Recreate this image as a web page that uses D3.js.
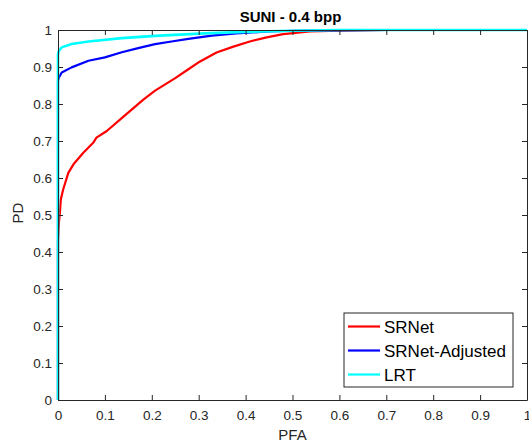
<html>
<script src="https://d3js.org/d3.v7.min.js"></script>
<body style="margin:0; background:#fff">
<svg width=529 height=443></svg>
<script>
// ROC points (PFA, PD)
var srnetPFA = [0, 0, 0.002, 0.004, 0.006, 0.011, 0.022, 0.033, 0.054, 0.075, 0.082, 0.104, 0.139, 0.182, 0.207, 0.25, 0.278, 0.303, 0.338, 0.374, 0.409, 0.445, 0.48, 0.537, 0.6, 0.7, 0.8, 1];
var srnetPD  = [0, 0.43, 0.48, 0.506, 0.542, 0.569, 0.614, 0.637, 0.668, 0.695, 0.709, 0.727, 0.765, 0.812, 0.836, 0.870, 0.894, 0.915, 0.939, 0.955, 0.969, 0.98, 0.989, 0.996, 0.998, 1, 1, 1];
var adjPFA = [0, 0, 0.002, 0.008, 0.029, 0.065, 0.1, 0.136, 0.171, 0.207, 0.242, 0.278, 0.328, 0.38, 0.45, 0.5, 0.6, 0.7, 1];
var adjPD  = [0, 0.863, 0.872, 0.885, 0.899, 0.917, 0.926, 0.94, 0.951, 0.962, 0.969, 0.976, 0.985, 0.991, 0.996, 0.998, 0.999, 1, 1];
var lrtPFA = [0, 0, 0.002, 0.008, 0.029, 0.065, 0.136, 0.207, 0.313, 0.4, 0.5, 0.6, 1];
var lrtPD  = [0, 0.935, 0.944, 0.953, 0.962, 0.969, 0.978, 0.984, 0.991, 0.995, 0.998, 1, 1];
var seriesNames = ["SRNet", "SRNet-Adjusted", "LRT"];
var seriesColors = ["#ff0000", "#0000ff", "#00ffff"];
var xTicks = [0, 0.1, 0.2, 0.3, 0.4, 0.5, 0.6, 0.7, 0.8, 0.9, 1];
var yTicks = [0, 0.1, 0.2, 0.3, 0.4, 0.5, 0.6, 0.7, 0.8, 0.9, 1];

var axisColor = "#262626";
var font = "'Liberation Sans', Arial, sans-serif";
var margin = {top: 30, left: 58, right: 2, bottom: 43};
var width = 529, height = 443;
var innerwidth = width - margin.left - margin.right;
var innerheight = height - margin.top - margin.bottom;

var svg = d3.select("svg");
var x = d3.scaleLinear().domain([0, 1]).range([0, innerwidth]);
var y = d3.scaleLinear().domain([0, 1]).range([innerheight, 0]);
var fmt = function(d) { return d === 0 || d === 1 ? String(d) : d3.format(".1f")(d); };

var g = svg.append("g").attr("transform", "translate(" + margin.left + "," + margin.top + ")");

// curves
var series = [
  {pfa: srnetPFA, pd: srnetPD},
  {pfa: adjPFA, pd: adjPD},
  {pfa: lrtPFA, pd: lrtPD}
];
var line = d3.line().x(function(d) { return x(d[0]); }).y(function(d) { return y(d[1]); });
series.forEach(function(s, i) {
  g.append("path")
    .datum(d3.zip(s.pfa, s.pd))
    .attr("fill", "none")
    .attr("stroke", seriesColors[i])
    .attr("stroke-width", i == 2 ? 2.6 : 2.2)
    .attr("stroke-linejoin", "round")
    .attr("d", line);
});

// axes, ticks pointing inward on all four sides
function styleAxis(sel) {
  sel.select(".domain").attr("stroke", axisColor).attr("stroke-width", 1);
  sel.selectAll(".tick line").attr("stroke", axisColor);
  sel.selectAll(".tick text").attr("fill", axisColor).attr("font-family", font).attr("font-size", "13.5px");
}
g.append("g").attr("transform", "translate(0," + innerheight + ")")
  .call(d3.axisBottom(x).tickValues(xTicks).tickFormat(fmt).tickSizeInner(-5).tickSizeOuter(0).tickPadding(10))
  .call(styleAxis);
g.append("g")
  .call(d3.axisLeft(y).tickValues(yTicks).tickFormat(fmt).tickSizeInner(-5).tickSizeOuter(0).tickPadding(6))
  .call(styleAxis);
g.append("g")
  .call(d3.axisTop(x).tickValues(xTicks).tickFormat("").tickSizeInner(-5).tickSizeOuter(0))
  .call(styleAxis);
g.append("g").attr("transform", "translate(" + innerwidth + ",0)")
  .call(d3.axisRight(y).tickValues(yTicks).tickFormat("").tickSizeInner(-5).tickSizeOuter(0))
  .call(styleAxis);

// title and labels
svg.append("text")
  .attr("x", margin.left + innerwidth / 2 - 2).attr("y", 22)
  .attr("text-anchor", "middle").attr("font-family", font)
  .attr("font-weight", "bold").attr("font-size", "15px").attr("fill", "#000")
  .text("SUNI - 0.4 bpp");
svg.append("text")
  .attr("x", margin.left + innerwidth / 2).attr("y", 440)
  .attr("text-anchor", "middle").attr("font-family", font)
  .attr("font-size", "15px").attr("fill", axisColor)
  .text("PFA");
svg.append("text")
  .attr("transform", "translate(23," + (margin.top + innerheight / 2 - 2) + ") rotate(-90)")
  .attr("text-anchor", "middle").attr("font-family", font)
  .attr("font-size", "15px").attr("fill", axisColor)
  .text("PD");

// legend
var legend = svg.append("g").attr("transform", "translate(344,313)");
legend.append("rect")
  .attr("width", 169).attr("height", 74)
  .attr("fill", "#fff").attr("stroke", axisColor).attr("stroke-width", 1);
seriesNames.forEach(function(name, i) {
  var row = legend.append("g").attr("transform", "translate(0," + (13.5 + i * 24) + ")");
  row.append("line").attr("x1", 4).attr("x2", 36)
    .attr("stroke", seriesColors[i]).attr("stroke-width", 2.2);
  row.append("text").attr("x", 40).attr("y", 6)
    .attr("font-family", font).attr("font-size", "17px").attr("fill", "#000")
    .text(name);
});
</script>
</body>
</html>
